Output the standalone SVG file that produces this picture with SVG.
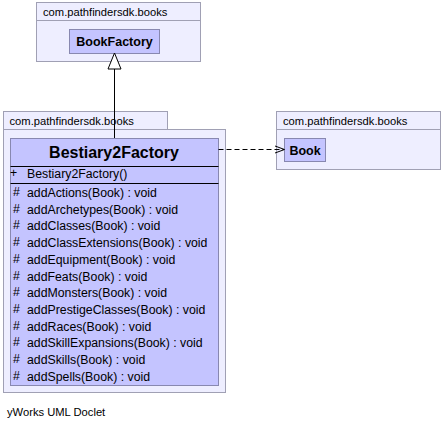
<svg xmlns="http://www.w3.org/2000/svg" width="444" height="430" viewBox="0 0 444 430">
<defs>
<style>
.pkg{fill:#eeeeff;stroke:#a0a0b4;stroke-width:1}
.cls{fill:#c4c4ff;stroke:#8888b0;stroke-width:1}
.sep{stroke:#000;stroke-width:1}
.pl{font-family:"Liberation Sans",Arial,sans-serif;font-size:11.2px;fill:#000}
.cn{font-family:"Liberation Sans",Arial,sans-serif;font-weight:bold;fill:#000;text-anchor:middle}
.m{font-family:"Liberation Sans",Arial,sans-serif;font-size:12.3px;fill:#000}
</style>
</defs>
<rect width="444" height="430" fill="#fff"/>
<g id="pkg-top">
<rect class="pkg" x="36.5" y="2.5" width="164" height="18"/>
<rect class="pkg" x="36.5" y="20.5" width="164" height="41"/>
<text class="pl" x="43" y="15.5">com.pathfindersdk.books</text>
</g>
<g id="BookFactory">
<rect class="cls" x="69.5" y="29.5" width="90" height="24"/>
<text class="cn" x="114.5" y="46" font-size="12.5">BookFactory</text>
</g>
<g id="pkg-left">
<rect class="pkg" x="3.5" y="111.5" width="164" height="18"/>
<rect class="pkg" x="3.5" y="129.5" width="222" height="263"/>
<text class="pl" x="9.5" y="124.5">com.pathfindersdk.books</text>
</g>
<g id="pkg-right">
<rect class="pkg" x="276.5" y="111.5" width="164" height="18"/>
<rect class="pkg" x="276.5" y="129.5" width="164" height="40"/>
<text class="pl" x="283" y="124.5">com.pathfindersdk.books</text>
</g>
<g id="Book">
<rect class="cls" x="284.5" y="138.5" width="41" height="23"/>
<text class="cn" x="305" y="154.5" font-size="12.5">Book</text>
</g>
<g id="Bestiary2Factory">
<rect class="cls" x="10.5" y="138.5" width="208" height="247"/>
<line class="sep" x1="10.5" y1="166.5" x2="218.5" y2="166.5"/>
<line class="sep" x1="10.5" y1="183.5" x2="218.5" y2="183.5"/>
<text class="cn" x="114" y="158" font-size="16">Bestiary2Factory</text>
<g class="m">
<text x="10" y="177">+</text>
<text x="27" y="178">Bestiary2Factory()</text>
<text x="13" y="196">#</text><text x="27" y="197">addActions(Book) : void</text>
<text x="13" y="213">#</text><text x="27" y="214">addArchetypes(Book) : void</text>
<text x="13" y="229">#</text><text x="27" y="230">addClasses(Book) : void</text>
<text x="13" y="246">#</text><text x="27" y="247">addClassExtensions(Book) : void</text>
<text x="13" y="263">#</text><text x="27" y="264">addEquipment(Book) : void</text>
<text x="13" y="280">#</text><text x="27" y="281">addFeats(Book) : void</text>
<text x="13" y="296">#</text><text x="27" y="297">addMonsters(Book) : void</text>
<text x="13" y="313">#</text><text x="27" y="314">addPrestigeClasses(Book) : void</text>
<text x="13" y="330">#</text><text x="27" y="331">addRaces(Book) : void</text>
<text x="13" y="346">#</text><text x="27" y="347">addSkillExpansions(Book) : void</text>
<text x="13" y="363">#</text><text x="27" y="364">addSkills(Book) : void</text>
<text x="13" y="380">#</text><text x="27" y="381">addSpells(Book) : void</text>
</g>
</g>
<g id="connectors" fill="none" stroke="#000" stroke-width="1">
<line x1="114.5" y1="69" x2="114.5" y2="138"/>
<polygon points="114.5,53 108,69 121,69" fill="#fff"/>
<line x1="218.5" y1="149.5" x2="284" y2="149.5" stroke-dasharray="5,3"/>
<polyline points="275,146 284.5,149.5 275,153"/>
</g>
<text class="pl" x="7" y="416" font-size="12.3">yWorks UML Doclet</text>
</svg>
